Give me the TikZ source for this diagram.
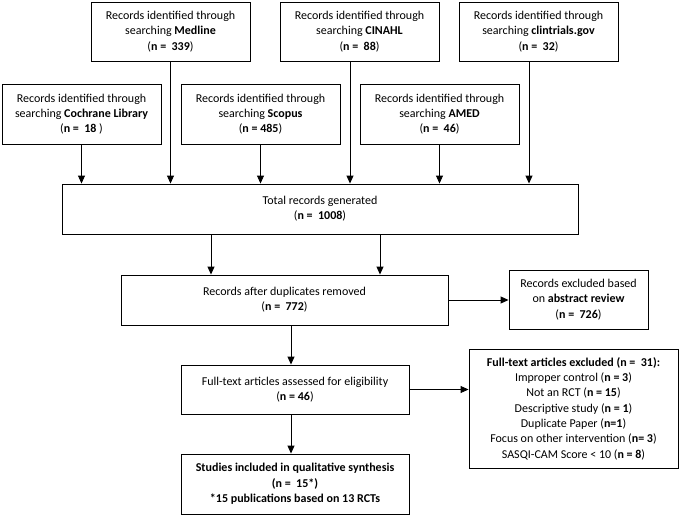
\documentclass[tikz,border=0pt]{standalone}
\usepackage{fontspec}
\setmainfont{Carlito}
\usetikzlibrary{arrows.meta}
\begin{document}
\begin{tikzpicture}[x=1pt,y=-1pt,
  box/.style={draw=black,line width=0.9pt,align=center,inner sep=2pt,
    font=\fontsize{12}{15.3}\selectfont},
  arr/.style={draw=black,line width=0.9pt,-{Triangle[length=8pt,width=7pt]}}]
\useasboundingbox (0,0) rectangle (680,516);
% sources
\node[box,minimum width=159pt,minimum height=59pt] (medline) at (170.5,31.5)
  {Records identified through\\searching \textbf{Medline}\\(\textbf{n =\ \ 339})};
\node[box,minimum width=159pt,minimum height=59pt] (cinahl) at (359.5,31.5)
  {Records identified through\\searching \textbf{CINAHL}\\(\textbf{n =\ \ 88})};
\node[box,minimum width=159pt,minimum height=59pt] (clin) at (538.5,31.5)
  {Records identified through\\searching \textbf{clintrials.gov}\\(\textbf{n =\ \ 32})};
\node[box,minimum width=159pt,minimum height=60pt] (cochrane) at (81.5,114)
  {Records identified through\\searching \textbf{Cochrane Library}\\(\textbf{n =\ \ 18} )};
\node[box,minimum width=159pt,minimum height=60pt] (scopus) at (260.5,114)
  {Records identified through\\searching \textbf{Scopus}\\(\textbf{n = 485})};
\node[box,minimum width=159pt,minimum height=60pt] (amed) at (439.5,114)
  {Records identified through\\searching \textbf{AMED}\\(\textbf{n =\ \ 46})};
% total
\node[box,minimum width=516pt,minimum height=50pt] (total) at (320,209)
  {Total records generated\\(\textbf{n =\ \ 1008})};
\node[box,minimum width=327pt,minimum height=50pt] (dup) at (284.5,300)
  {Records after duplicates removed\\(\textbf{n =\ \ 772})};
\node[box,minimum width=139pt,minimum height=59pt] (abs) at (578.5,299.5)
  {Records excluded based\\on \textbf{abstract review}\\(\textbf{n =\ \ 726})};
\node[box,minimum width=228pt,minimum height=49pt] (full) at (295,389.5)
  {Full-text articles assessed for eligibility\\(\textbf{n = 46})};
\node[box,minimum width=209pt,minimum height=119pt] (excl) at (573.5,408.5)
  {\textbf{Full-text articles excluded (n =\ \ 31):}\\
   Improper control (\textbf{n = 3})\\
   Not an RCT (\textbf{n = 15})\\
   Descriptive study (\textbf{n = 1})\\
   Duplicate Paper (\textbf{n=1})\\
   Focus on other intervention (\textbf{n= 3})\\
   SASQI-CAM Score < 10 (\textbf{n = 8})};
\node[box,minimum width=228pt,minimum height=60pt,font=\fontsize{12}{15.3}\selectfont\bfseries] (stud) at (295,484)
  {Studies included in qualitative synthesis\\(n =\ \ 15*)\\*15 publications based on 13 RCTs};
% connectors
\draw[arr] (cochrane.south) -- (cochrane.south |- total.north);
\draw[arr] (medline.south) -- (medline.south |- total.north);
\draw[arr] (scopus.south) -- (scopus.south |- total.north);
\draw[arr] ([xshift=-9.5pt]cinahl.south) -- ([xshift=-9.5pt]cinahl.south |- total.north);
\draw[arr] (amed.south) -- (amed.south |- total.north);
\draw[arr] ([xshift=-9.5pt]clin.south) -- ([xshift=-9.5pt]clin.south |- total.north);
\draw[arr] ([xshift=-109pt]total.south) -- ([xshift=-109pt]total.south |- dup.north);
\draw[arr] ([xshift=60pt]total.south) -- ([xshift=60pt]total.south |- dup.north);
\draw[arr] (dup.east) -- (dup.east -| abs.west);
\draw[arr] ([xshift=6.5pt]dup.south) -- ([xshift=6.5pt]dup.south |- full.north);
\draw[arr] (full.east) -- (full.east -| excl.west);
\draw[arr] ([xshift=-4pt]full.south) -- ([xshift=-4pt]full.south |- stud.north);
\end{tikzpicture}
\end{document}
